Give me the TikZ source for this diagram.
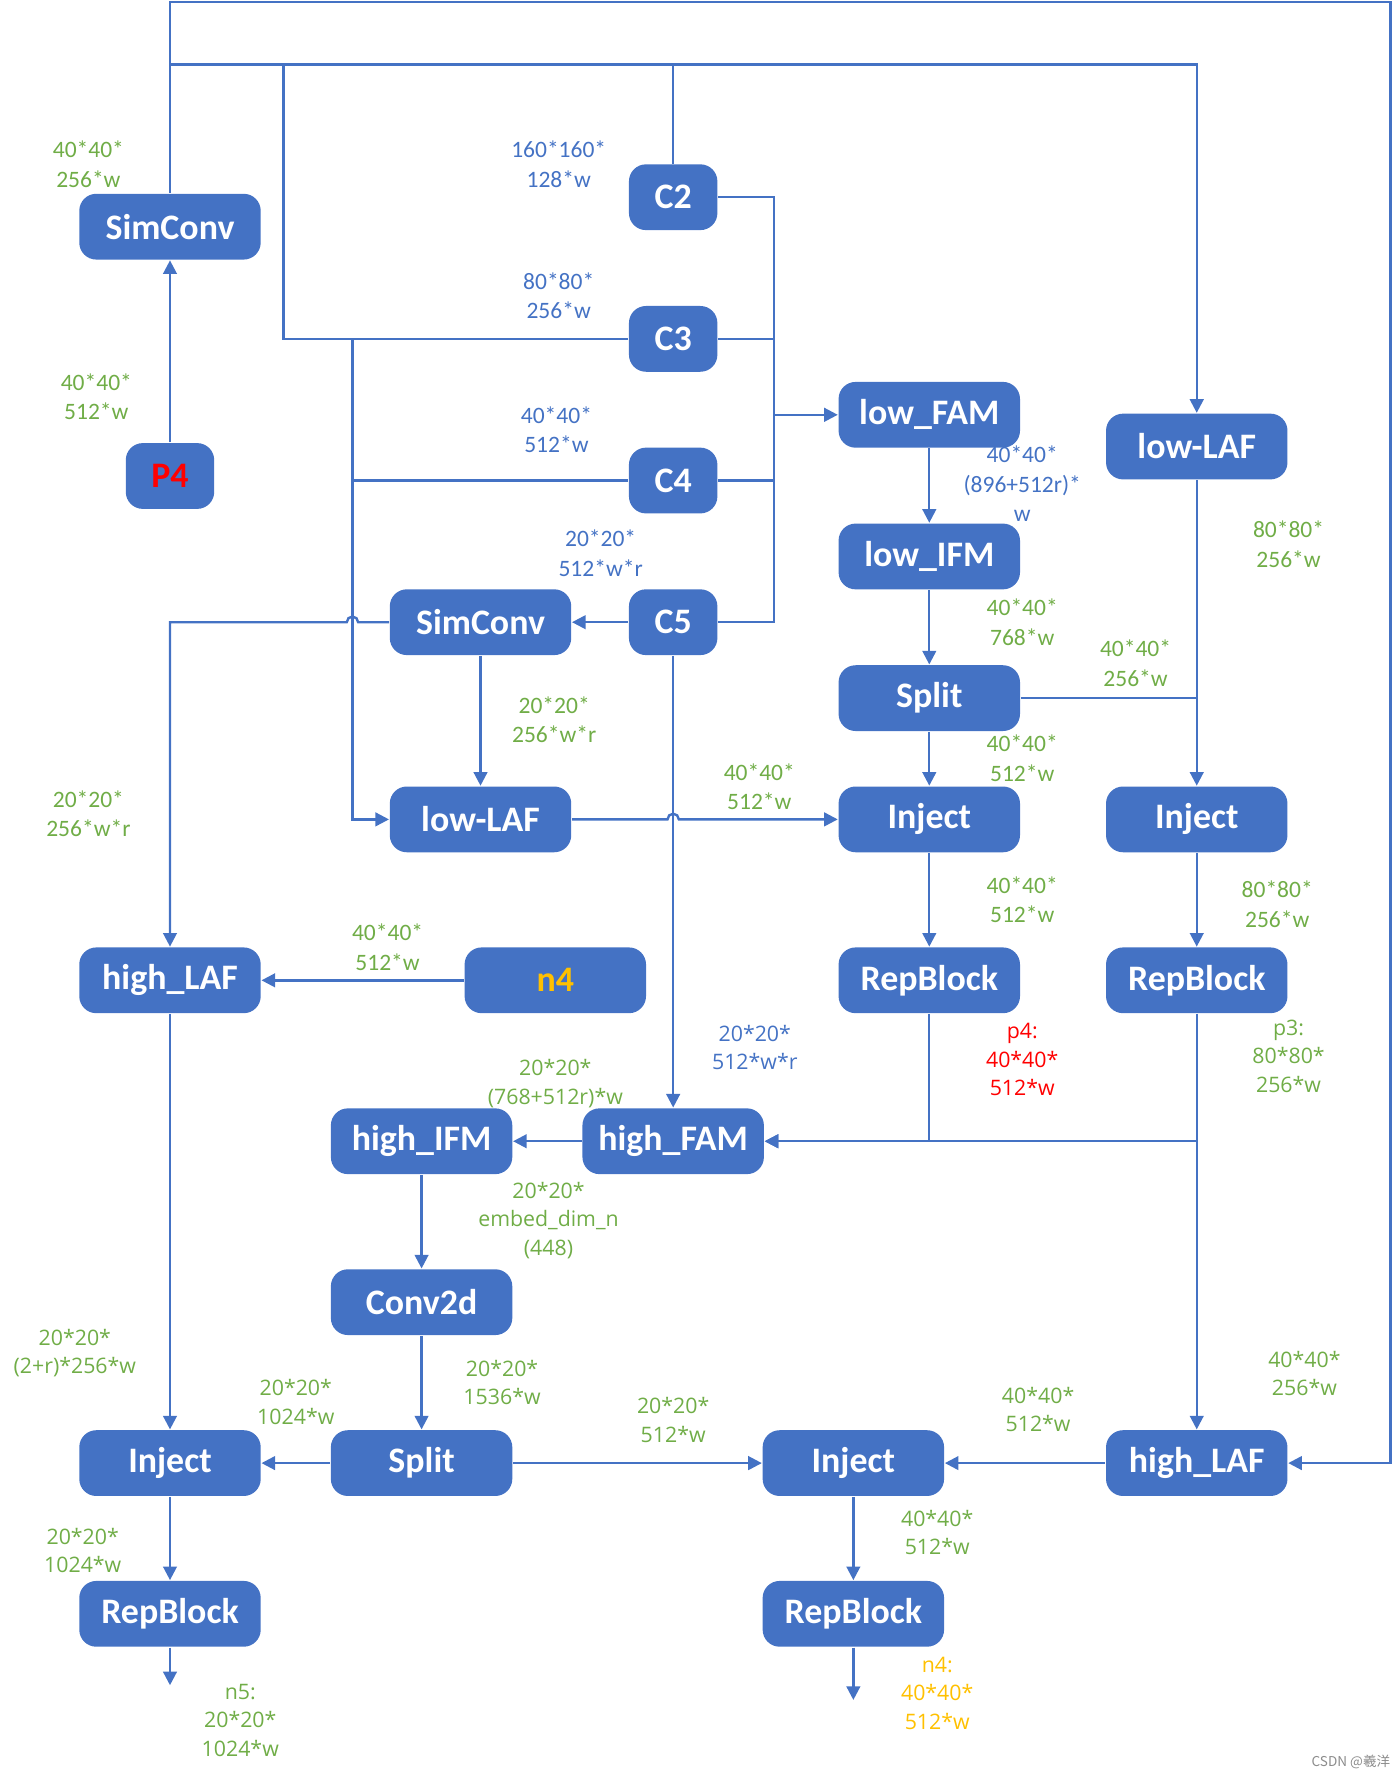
\documentclass[tikz,border=0pt]{standalone}
\usepackage{fontspec}
\setmainfont{Carlito}
\newfontfamily\segoe{Open Sans}
\newfontfamily\cjk{Noto Sans CJK SC}
\usetikzlibrary{arrows.meta, calc}
\definecolor{BoxBlue}{RGB}{68,114,196}
\definecolor{LblGreen}{RGB}{112,173,71}
\definecolor{LblRed}{RGB}{255,0,0}
\definecolor{LblGold}{RGB}{255,192,0}
\definecolor{MarkGray}{RGB}{140,140,140}

\tikzset{
  blk/.style={rectangle, rounded corners=0.15cm, fill=BoxBlue, text=white,
    font=\fontsize{9}{10}\selectfont\bfseries,
    minimum width=1.6cm, minimum height=0.58cm, inner sep=0pt},
  sblk/.style={blk, minimum width=0.78cm},
  lbl/.style={font=\fontsize{5.9}{7.4}\selectfont, align=center, inner sep=0pt},
  slbl/.style={font=\segoe\fontsize{5.35}{7.1}\selectfont, align=center, inner sep=0pt},
  wire/.style={BoxBlue, line width=0.6pt},
  arr/.style={wire, -{Triangle[length=1.2mm, width=1.2mm]}},
}

\begin{document}
\begin{tikzpicture}[x=0.01cm, y=-0.01cm]
        \useasboundingbox (0,0) rectangle (1229,1568);

        % Backbone
        \node[blk] (simA) at (150,200) {SimConv};
        \node[sblk, text=LblRed] (p4) at (150,420) {P4};
        \node[sblk] (c2) at (594,174) {C2};
        \node[sblk] (c3) at (594,299) {C3};
        \node[sblk] (c4) at (594,424) {C4};
        \node[sblk] (c5) at (594,549) {C5};
        \node[blk] (simB) at (424,549) {SimConv};
        \node[blk] (lowlafA) at (424,723) {low-LAF};

        % Low branch
        \node[blk] (lowfam) at (820,366) {low\_FAM};
        \node[blk] (lowifm) at (820,491) {low\_IFM};
        \node[blk] (splitA) at (820,616) {Split};
        \node[blk] (injA) at (820,723) {Inject};
        \node[blk] (repA) at (820,865) {RepBlock};
        \node[blk] (lowlafB) at (1056,394) {low-LAF};
        \node[blk] (injB) at (1056,723) {Inject};
        \node[blk] (repB) at (1056,865) {RepBlock};

        % High branch
        \node[blk] (highlafA) at (150,865) {high\_LAF};
        \node[blk, text=LblGold] (n4) at (490,865) {n4};
        \node[blk] (highfam) at (594,1007) {high\_FAM};
        \node[blk] (highifm) at (372,1007) {high\_IFM};
        \node[blk] (conv) at (372,1149) {Conv2d};
        \node[blk] (splitB) at (372,1291) {Split};
        \node[blk] (injC) at (150,1291) {Inject};
        \node[blk] (repC) at (150,1424) {RepBlock};
        \node[blk] (injD) at (753,1291) {Inject};
        \node[blk] (repD) at (753,1424) {RepBlock};
        \node[blk] (highlafB) at (1056,1291) {high\_LAF};

        % Bends and free ends
        \coordinate (outer) at (1227,2);
        \coordinate (busR) at (1056,57);
        \coordinate (busL) at (250,57);
        \coordinate (tapC3) at (311,299);
        \coordinate (joinR) at (683,366);
        \coordinate (hopA) at (311,549);
        \coordinate (hopB) at (594,723);
        \coordinate (endC) at (150,1487);
        \coordinate (endD) at (753,1500);

        % Wires
        \draw[arr] (p4) -- (simA);
        \draw[arr] (simA.north) |- (outer) |- (highlafB.east);
        \draw[arr] (c2.north) |- (busR) -- (lowlafB.north);
        \draw[wire] (c2.north |- busR) -| (simA.north);
        \draw[wire] (c3.west) -| (busL);
        \draw[arr] (tapC3) |- (lowlafA.west);
        \draw[wire] (c4.west) -- (c4.west -| tapC3);
        \draw[wire] (c2.east) -| (joinR) |- (c5.east);
        \draw[wire] (c3.east) -- (c3.east -| joinR);
        \draw[wire] (c4.east) -- (c4.east -| joinR);
        \draw[arr] (joinR) -- (lowfam.west);
        \draw[arr] (c5) -- (simB);
        \draw[arr] (simB.west) -- ($(hopA)+(5,0)$)
          arc[start angle=0, end angle=180, radius=0.05cm] -| (highlafA.north);
        \draw[arr] (simB) -- (lowlafA);
        \draw[arr] (lowlafA.east) -- ($(hopB)+(-5,0)$)
          arc[start angle=180, end angle=0, radius=0.05cm] -- (injA.west);
        \draw[arr] (c5) -- (highfam);
        \draw[arr] (lowfam) -- (lowifm);
        \draw[arr] (lowifm) -- (splitA);
        \draw[arr] (splitA) -- (injA);
        \draw[wire] (splitA.east) -- (splitA.east -| lowlafB);
        \draw[arr] (lowlafB) -- (injB);
        \draw[arr] (injA) -- (repA);
        \draw[arr] (injB) -- (repB);
        \draw[arr] (repA.south) |- (highfam.east);
        \draw[arr] (repB.south) |- (highfam.east);
        \draw[arr] (repB) -- (highlafB);
        \draw[arr] (n4) -- (highlafA);
        \draw[arr] (highlafA) -- (injC);
        \draw[arr] (highfam) -- (highifm);
        \draw[arr] (highifm) -- (conv);
        \draw[arr] (conv) -- (splitB);
        \draw[arr] (splitB) -- (injC);
        \draw[arr] (splitB) -- (injD);
        \draw[arr] (highlafB) -- (injD);
        \draw[arr] (injC) -- (repC);
        \draw[arr] (injD) -- (repD);
        \draw[arr] (repC) -- (endC);
        \draw[arr] (repD) -- (endD);

        % Shape labels, upper part
        \node[lbl, LblGreen] (tP4a) at (78,145) {40*40*\\256*w};
        \node[lbl, LblGreen] (tP4b) at (85,350) {40*40*\\512*w};
        \node[lbl, BoxBlue] (tC2) at (493,145) {160*160*\\128*w};
        \node[lbl, BoxBlue] (tC3) at (493,261) {80*80*\\256*w};
        \node[lbl, BoxBlue] (tC4) at (491,379) {40*40*\\512*w};
        \node[lbl, BoxBlue] (tC5) at (530,488) {20*20*\\512*w*r};
        \node[lbl, BoxBlue] (tFam) at (902,427) {40*40*\\(896+512r)*\\w};
        \node[lbl, LblGreen] (tLafB) at (1137,480) {80*80*\\256*w};
        \node[lbl, LblGreen] (tIfm) at (902,549) {40*40*\\768*w};
        \node[lbl, LblGreen] (tSplR) at (1002,585) {40*40*\\256*w};
        \node[lbl, LblGreen] (tSimB) at (489,635) {20*20*\\256*w*r};
        \node[lbl, LblGreen] (tSplD) at (902,669) {40*40*\\512*w};
        \node[lbl, LblGreen] (tLafA) at (670,694) {40*40*\\512*w};
        \node[lbl, LblGreen] (tSimL) at (78,718) {20*20*\\256*w*r};
        \node[lbl, LblGreen] (tInjA) at (902,794) {40*40*\\512*w};
        \node[lbl, LblGreen] (tInjB) at (1127,798) {80*80*\\256*w};
        \node[lbl, LblGreen] (tN4) at (342,836) {40*40*\\512*w};

        % Shape labels, lower part
        \node[slbl, BoxBlue] (tC5b) at (666,924) {20*20*\\512*w*r};
        \node[slbl, LblRed] (tP4o) at (902,935) {p4:\\40*40*\\512*w};
        \node[slbl, LblGreen] (tP3o) at (1137,932) {p3:\\80*80*\\256*w};
        \node[slbl, LblGreen] (tHfam) at (490,956) {20*20*\\(768+512r)*w};
        \node[slbl, LblGreen] (tHifm) at (484,1077) {20*20*\\embed\_dim\_n\\(448)};
        \node[slbl, LblGreen] (tHlafA) at (66,1194) {20*20*\\(2+r)*256*w};
        \node[slbl, LblGreen] (tSplL) at (261,1237) {20*20*\\1024*w};
        \node[slbl, LblGreen] (tConv) at (443,1220) {20*20*\\1536*w};
        \node[slbl, LblGreen] (tSplM) at (594,1253) {20*20*\\512*w};
        \node[slbl, LblGreen] (tHlafB) at (916,1244) {40*40*\\512*w};
        \node[slbl, LblGreen] (tOuter) at (1151,1212) {40*40*\\256*w};
        \node[slbl, LblGreen] (tInjC) at (73,1368) {20*20*\\1024*w};
        \node[slbl, LblGreen] (tInjD) at (827,1352) {40*40*\\512*w};
        \node[slbl, LblGreen] (tN5o) at (212,1518) {n5:\\20*20*\\1024*w};
        \node[slbl, LblGold] (tN4o) at (827,1494) {n4:\\40*40*\\512*w};

        \node[font=\cjk\fontsize{3.4}{4}\selectfont, text=MarkGray, inner sep=0pt]
          (mark) at (1192,1555) {CSDN @羲洋};
\end{tikzpicture}
\end{document}
